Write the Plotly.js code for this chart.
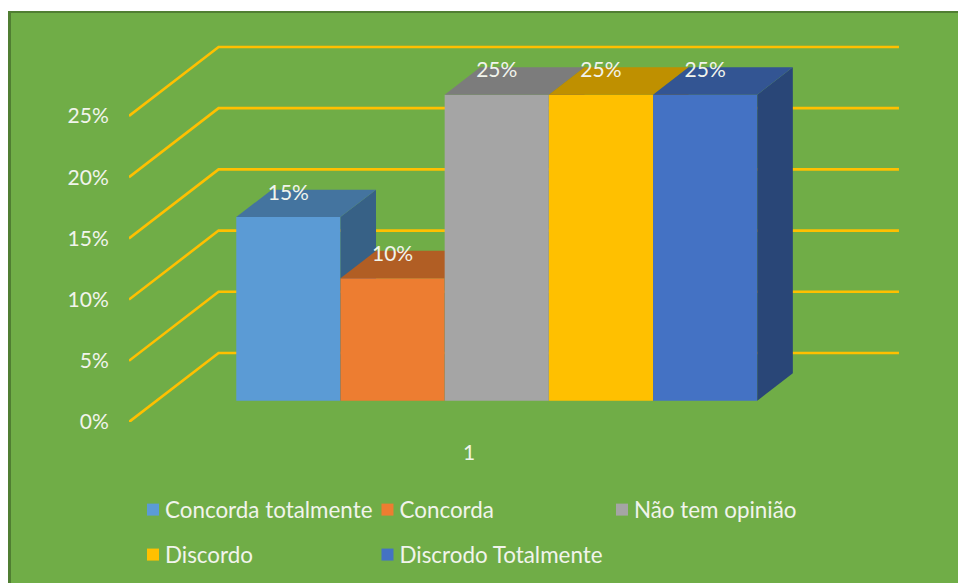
<!DOCTYPE html>
<html>
<head>
<meta charset="utf-8">
<script src="https://cdn.plot.ly/plotly-3.0.1.min.js"></script>
<style>
  html, body { margin: 0; padding: 0; background: #ffffff; }
  #chart {
    position: absolute; left: 8px; top: 11px; width: 950px; height: 572px;
    box-sizing: border-box; border-left: 3px solid #507e32; border-top: 2px solid #507e32;
  }
  /* Legend labels sit close to their swatches and may run past the last column */
  #chart .legendtext, #chart .legend2text { transform: translateX(-8px); }
  #chart .scrollbox { clip-path: none !important; }
</style>
</head>
<body>
<div id="chart"></div>
<script>
// Survey answers, one bar per answer
const category = ['1'];
const answers = ['Concorda totalmente', 'Concorda', 'Não tem opinião', 'Discordo', 'Discrodo Totalmente'];
const shares = [0.15, 0.10, 0.25, 0.25, 0.25];
const valueTicks = [0, 0.05, 0.10, 0.15, 0.20, 0.25];
const valueTickLabels = ['0%', '5%', '10%', '15%', '20%', '25%'];

const frontColors = ['#5B9BD5', '#ED7D31', '#A5A5A5', '#FFC000', '#4472C4'];
const topColors = ['#44749F', '#B15E24', '#7C7C7C', '#BF9000', '#335593'];
const sideColors = ['#376186', '#8F4C1D', '#646464', '#9A7400', '#294677'];

// Oblique projection of the 3-D box: depth 0 is the front of the floor, depth 1 the back wall
const DEPTH_X = 0.1317, DEPTH_Y = 0.05637;
const X_MIN = 0.5, X_END = 1.632, X_MAX = 1.66, Y_MIN = 0, Y_MAX = 0.3145;
const BAR_WIDTH = 0.1532, BAR_NEAR = 0.309, BAR_DEPTH = 0.397;
const LABEL_LIFT = 0.0185;
const TEXT = '#F1F4EC';
const FONT = 'Lato, "Open Sans", sans-serif';

const traces = [];

// Wall and floor grid lines run along the side wall, then across the back wall
valueTicks.forEach(v => {
  traces.push({
    type: 'scatter', mode: 'lines', xaxis: 'x', yaxis: 'y',
    x: [X_MIN, X_MIN + DEPTH_X, X_END],
    y: [v, v + DEPTH_Y, v + DEPTH_Y],
    line: { color: '#FFC000', width: 2.6 },
    showlegend: false, hoverinfo: 'skip', cliponaxis: false
  });
});

const barBase = BAR_NEAR * DEPTH_Y;
const groupLeft = 1 + BAR_NEAR * DEPTH_X - BAR_WIDTH * shares.length / 2;
const layoutAxes = {};

// Each bar lives on its own overlaid subplot so the boxes paint left to right
shares.forEach((value, i) => {
  const n = i + 2;
  const xa = 'x' + n, ya = 'y' + n;
  layoutAxes['xaxis' + n] = { overlaying: 'x', range: [X_MIN, X_MAX], visible: false, fixedrange: true };
  layoutAxes['yaxis' + n] = { overlaying: 'y', range: [Y_MIN, Y_MAX], visible: false, fixedrange: true };

  const x0 = groupLeft + i * BAR_WIDTH, x1 = x0 + BAR_WIDTH;
  const yTop = barBase + value;
  const dx = BAR_DEPTH * DEPTH_X, dy = BAR_DEPTH * DEPTH_Y;

  traces.push({
    type: 'bar', name: answers[i], xaxis: xa, yaxis: ya,
    x: [(x0 + x1) / 2], y: [value], base: barBase, width: BAR_WIDTH,
    marker: { color: frontColors[i], line: { width: 0 } },
    legend: i < 3 ? 'legend' : 'legend2',
    hovertemplate: answers[i] + ': %{y:.0%}<extra></extra>', cliponaxis: false
  });
  traces.push({
    type: 'scatter', mode: 'lines', xaxis: xa, yaxis: ya, fill: 'toself', fillcolor: sideColors[i],
    x: [x1, x1 + dx, x1 + dx, x1, x1],
    y: [yTop, yTop + dy, barBase + dy, barBase, yTop],
    line: { width: 0 }, showlegend: false, hoverinfo: 'skip', cliponaxis: false
  });
  traces.push({
    type: 'scatter', mode: 'lines', xaxis: xa, yaxis: ya, fill: 'toself', fillcolor: topColors[i],
    x: [x0, x1, x1 + dx, x0 + dx, x0],
    y: [yTop, yTop, yTop + dy, yTop + dy, yTop],
    line: { width: 0 }, showlegend: false, hoverinfo: 'skip', cliponaxis: false
  });
});

// Value labels sit above the front edge of each bar, on the topmost subplot
traces.push({
  type: 'scatter', mode: 'text', xaxis: 'x6', yaxis: 'y6',
  x: shares.map((_, i) => groupLeft + (i + 0.5) * BAR_WIDTH),
  y: shares.map(v => barBase + v + LABEL_LIFT),
  text: shares.map(v => Math.round(v * 100) + '%'),
  textposition: 'middle center',
  textfont: { family: FONT, size: 21, color: TEXT },
  showlegend: false, hoverinfo: 'skip', cliponaxis: false
});

const legendCommon = {
  orientation: 'h', xref: 'container', yref: 'container', xanchor: 'left', yanchor: 'middle',
  bgcolor: 'rgba(0,0,0,0)', borderwidth: 0,
  font: { family: FONT, size: 22.4, color: TEXT },
  entrywidthmode: 'pixels', entrywidth: 189.5, itemclick: false, itemdoubleclick: false
};

const layout = Object.assign({
  width: 947, height: 570, autosize: false,
  margin: { l: 118, r: 40.2, t: 24, b: 161, pad: 0 },
  paper_bgcolor: '#70AD47', plot_bgcolor: 'rgba(0,0,0,0)',
  barmode: 'overlay', showlegend: true,
  xaxis: {
    range: [X_MIN, X_MAX], tickmode: 'array', tickvals: [1], ticktext: category,
    showgrid: false, zeroline: false, showline: false, fixedrange: true,
    ticks: 'outside', ticklen: 12, tickcolor: 'rgba(0,0,0,0)',
    tickfont: { family: FONT, size: 21, color: TEXT }
  },
  yaxis: {
    range: [Y_MIN, Y_MAX], tickmode: 'array', tickvals: valueTicks, ticktext: valueTickLabels,
    showgrid: false, zeroline: false, showline: false, fixedrange: true,
    ticks: 'outside', ticklen: 15, tickcolor: 'rgba(0,0,0,0)',
    tickfont: { family: FONT, size: 21, color: TEXT }
  },
  legend: Object.assign({}, legendCommon, { x: 0.1288, y: 0.128 }),
  legend2: Object.assign({}, legendCommon, { x: 0.1288, y: 0.0491 })
}, layoutAxes);

Plotly.newPlot('chart', traces, layout, { displayModeBar: false, responsive: false });
</script>
</body>
</html>
